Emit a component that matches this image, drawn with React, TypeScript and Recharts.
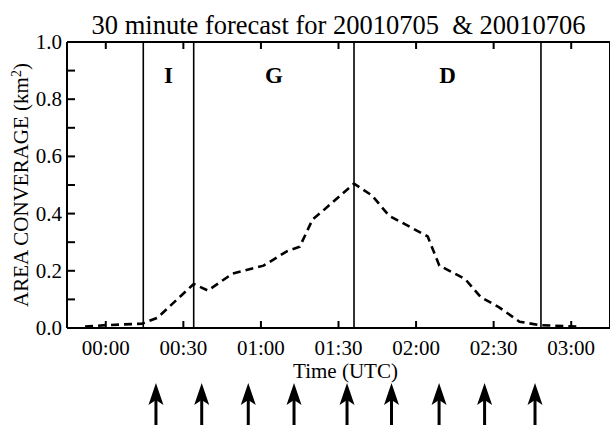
import React from 'react';
import {
  ComposedChart,
  Line,
  XAxis,
  YAxis,
  ReferenceLine,
  ReferenceArea,
  ReferenceDot,
} from 'recharts';

// minutes after 00:00 UTC
const times = [-8, 0, 14, 20, 34, 39.5, 49, 61, 70, 75, 80, 84, 96, 103, 109.5, 124.5, 129, 139, 145, 152, 160, 168, 183];
const coverage = [0.005, 0.01, 0.015, 0.036, 0.154, 0.131, 0.19, 0.218, 0.268, 0.284, 0.38, 0.41, 0.505, 0.463, 0.393, 0.32, 0.218, 0.171, 0.108, 0.073, 0.022, 0.01, 0.005];

const xTicks = [0, 30, 60, 90, 120, 150, 180];
const xTickLabels = ['00:00', '00:30', '01:00', '01:30', '02:00', '02:30', '03:00'];
const yTicks = [0, 0.1, 0.2, 0.3, 0.4, 0.5, 0.6, 0.7, 0.8, 0.9, 1.0];

const phaseBounds = [14.5, 34, 96, 168.3];
const phaseNames = ['I', 'G', 'D'];
const arrowTimes = [19.4, 37.1, 55.1, 72.8, 93.3, 110.5, 128.9, 146.5, 166];

const title = '30 minute forecast for 20010705  & 20010706';
const xTitle = 'Time (UTC)';

const FONT = '"Liberation Serif", "DejaVu Serif", serif';

const data = times.map((t, i) => ({ t, v: coverage[i] }));

const fmtX = (v: number) => {
  const i = xTicks.indexOf(v);
  return i >= 0 ? xTickLabels[i] : '';
};
const fmtY = (v: number) => (Math.round(v * 10) % 2 === 0 ? v.toFixed(1) : '');

const X_MARGIN = 12;
const Y_MARGIN = 5;

const BottomTick = (props: any) => {
  const { x, y, payload } = props;
  const axisY = y - X_MARGIN;
  return (
    <g>
      <line x1={x} x2={x} y1={axisY} y2={axisY - 7} stroke="#000" strokeWidth={2} />
      <text x={x} y={axisY + 27} textAnchor="middle" fontSize={21} fontFamily={FONT} fill="#000">
        {fmtX(payload.value)}
      </text>
    </g>
  );
};

const LeftTick = (props: any) => {
  const { x, y, payload } = props;
  const axisX = x + Y_MARGIN;
  return (
    <g>
      <line x1={axisX} x2={axisX + 8} y1={y} y2={y} stroke="#000" strokeWidth={2} />
      <text x={axisX - 5} y={y + 7} textAnchor="end" fontSize={21} fontFamily={FONT} fill="#000">
        {fmtY(payload.value)}
      </text>
    </g>
  );
};

const Arrow = (props: any) => {
  const { cx, cy } = props;
  if (cx == null || cy == null) return null;
  const tip = cy + 55;
  return (
    <g>
      <line x1={cx} y1={tip + 14} x2={cx} y2={cy + 100} stroke="#000" strokeWidth={3} />
      <path
        d={`M ${cx} ${tip} L ${cx + 7.5} ${tip + 22} L ${cx} ${tip + 17} L ${cx - 7.5} ${tip + 22} Z`}
        fill="#000"
      />
    </g>
  );
};

export default function App() {
  return (
    <div style={{ position: 'absolute', left: 0, top: 0 }}>
      <ComposedChart
        width={610}
        height={425}
        data={data}
        margin={{ top: 42, right: 0, bottom: 0, left: 0 }}
      >
        <XAxis
          dataKey="t"
          type="number"
          domain={[-15, 195]}
          ticks={xTicks}
          interval={0}
          height={97}
          tickLine={false}
          tickSize={0}
          tickMargin={X_MARGIN}
          tick={<BottomTick />}
          stroke="#000"
          strokeWidth={2}
          allowDataOverflow
          label={{
            content: (p: any) => {
              const vb = p.viewBox || {};
              return (
                <text
                  x={vb.x + vb.width / 2 + 7}
                  y={vb.y + 50}
                  textAnchor="middle"
                  fontSize={21}
                  fontFamily={FONT}
                  fill="#000"
                >
                  {xTitle}
                </text>
              );
            },
          }}
        />
        <XAxis
          xAxisId="top"
          dataKey="t"
          type="number"
          orientation="top"
          mirror
          domain={[-15, 195]}
          ticks={xTicks}
          interval={0}
          tickFormatter={() => ''}
          height={1}
          tickSize={7}
          stroke="#000"
          strokeWidth={2}
          allowDataOverflow
          label={{
            content: (p: any) => {
              const vb = p.viewBox || {};
              return (
                <text
                  x={vb.x + vb.width / 2}
                  y={vb.y - 8}
                  textAnchor="middle"
                  fontSize={26.5}
                  fontFamily={FONT}
                  fill="#000"
                  style={{ whiteSpace: 'pre', fontFamily: FONT }}
                >
                  {title}
                </text>
              );
            },
          }}
        />
        <YAxis
          type="number"
          domain={[0, 1]}
          ticks={yTicks}
          interval={0}
          width={67}
          tickLine={false}
          tickSize={0}
          tickMargin={Y_MARGIN}
          tick={<LeftTick />}
          stroke="#000"
          strokeWidth={2}
          label={{
            content: (p: any) => {
              const vb = p.viewBox || {};
              const cx = 28;
              const cy = vb.y + vb.height / 2;
              return (
                <text
                  x={cx}
                  y={cy}
                  transform={`rotate(-90 ${cx} ${cy})`}
                  textAnchor="middle"
                  fontSize={21}
                  fontFamily={FONT}
                  fill="#000"
                >
                  AREA CONVERAGE (km
                  <tspan baselineShift="super" fontSize={14}>2</tspan>
                  )
                </text>
              );
            },
          }}
        />
        <YAxis
          yAxisId="right"
          orientation="right"
          mirror
          type="number"
          domain={[0, 1]}
          ticks={yTicks}
          interval={0}
          tickFormatter={() => ''}
          width={1}
          tickSize={8}
          stroke="#000"
          strokeWidth={2}
        />
        {phaseNames.map((n, i) => (
          <ReferenceArea
            key={n}
            x1={phaseBounds[i]}
            x2={phaseBounds[i + 1]}
            fill="none"
            fillOpacity={0}
            strokeOpacity={0}
            label={{
              value: n,
              position: 'insideTop',
              offset: 25,
              fill: '#000',
              fontSize: 23,
              fontWeight: 'bold',
              fontFamily: FONT,
            }}
          />
        ))}
        {phaseBounds.map((b) => (
          <ReferenceLine key={b} x={b} stroke="#000" strokeWidth={1.6} />
        ))}
        <Line
          dataKey="v"
          type="linear"
          stroke="#000"
          strokeWidth={2.6}
          strokeDasharray="8 5"
          dot={false}
          isAnimationActive={false}
        />
        {arrowTimes.map((t) => (
          <ReferenceDot
            key={t}
            x={t}
            y={0}
            r={0}
            ifOverflow="visible"
            shape={Arrow}
          />
        ))}
      </ComposedChart>
    </div>
  );
}
